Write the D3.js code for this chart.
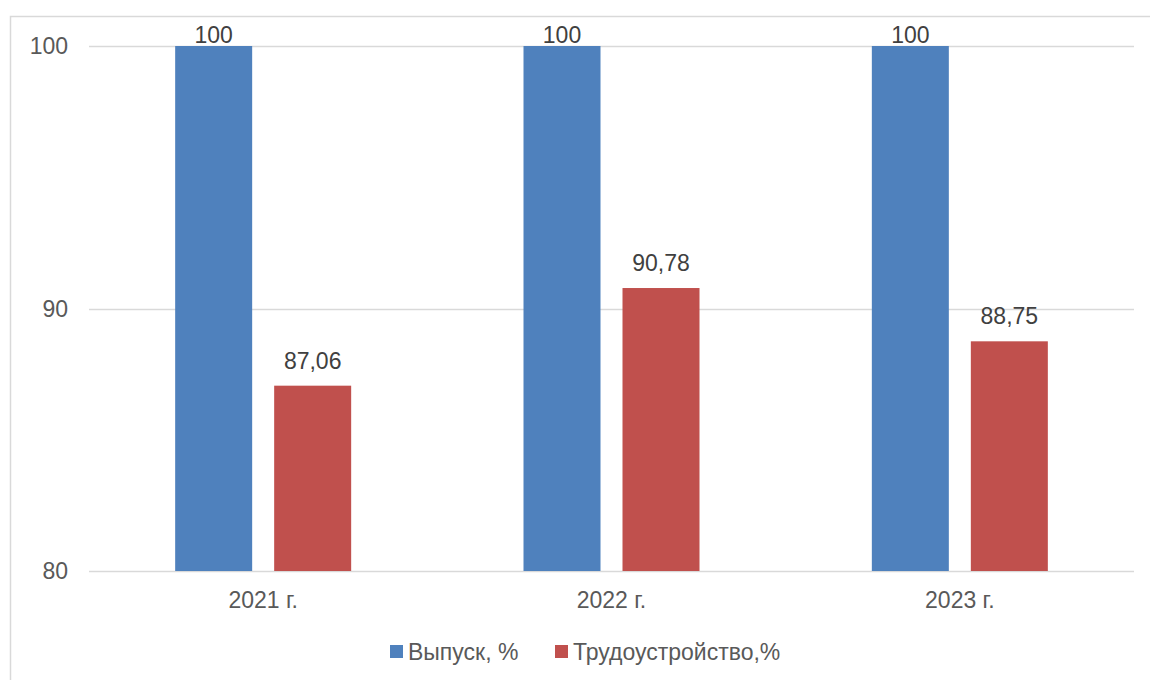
<!DOCTYPE html>
<html>
<head>
    <meta charset='utf-8'>
    <script src='https://cdn.jsdelivr.net/npm/d3@7'></script>
    <style>
        html, body { margin: 0; padding: 0; background: #fff; overflow: hidden; }
        text { font-family: 'Liberation Sans', Arial, sans-serif; }
    </style>
</head>
<body>
<script>
    // Data
    const categories = ['2021 г.', '2022 г.', '2023 г.'];
    const seriesNames = ['Выпуск, %', 'Трудоустройство,%'];
    const vypusk = [100, 100, 100];
    const trudo = [87.06, 90.78, 88.75];
    const yTicks = [80, 90, 100];
    const colors = ['#4F81BD', '#C0504D'];

    const W = 1150, H = 680;
    const plot = { left: 89, right: 1134, top: 46, bottom: 571 };
    const fmt = v => String(v).replace('.', ',');

    const svg = d3.select('body').append('svg')
        .attr('width', W).attr('height', H);

    // chart frame
    svg.append('rect')
        .attr('x', 10.5).attr('y', 16.5)
        .attr('width', W).attr('height', H)
        .attr('fill', 'none').attr('stroke', '#D9D9D9').attr('stroke-width', 1.5);

    const x = d3.scaleBand().domain(categories).range([plot.left, plot.right]);
    const y = d3.scaleLinear().domain([80, 100]).range([plot.bottom, plot.top]);

    // gridlines
    svg.append('g').selectAll('line')
        .data(yTicks).join('line')
        .attr('x1', plot.left).attr('x2', plot.right)
        .attr('y1', d => Math.round(y(d)) + 0.5).attr('y2', d => Math.round(y(d)) + 0.5)
        .attr('stroke', '#D9D9D9').attr('stroke-width', 1.5);

    // y tick labels
    svg.append('g').selectAll('text')
        .data(yTicks).join('text')
        .attr('x', 68).attr('y', d => y(d))
        .attr('text-anchor', 'end').attr('dy', '0.35em')
        .attr('font-size', 23).attr('fill', '#595959')
        .text(d => d);

    // bars: groups of two inside each category
    const inner = d3.scaleBand().domain([0, 1])
        .range([-88, 88]).paddingInner(22 / 176 * 2).paddingOuter(0);
    const series = [vypusk, trudo];
    const rows = [];
    categories.forEach((c, i) => series.forEach((s, j) => rows.push({ c, j, v: s[i] })));

    const cx = c => x(c) + x.bandwidth() / 2;
    const barW = 77;
    const barX = d => cx(d.c) + (d.j === 0 ? -88 : 11);

    svg.append('g').selectAll('rect')
        .data(rows).join('rect')
        .attr('x', barX)
        .attr('y', d => y(d.v))
        .attr('width', barW)
        .attr('height', d => y(80) - y(d.v))
        .attr('fill', d => colors[d.j]);

    // data labels
    svg.append('g').selectAll('text')
        .data(rows).join('text')
        .attr('x', d => barX(d) + barW / 2)
        .attr('y', d => Math.max(y(d.v) - 17, plot.top - 3))
        .attr('text-anchor', 'middle')
        .attr('font-size', 23).attr('fill', '#404040')
        .text(d => fmt(d.v));

    // x labels
    svg.append('g').selectAll('text')
        .data(categories).join('text')
        .attr('x', cx).attr('y', 608)
        .attr('text-anchor', 'middle')
        .attr('font-size', 23).attr('fill', '#595959')
        .text(d => d);

    // legend
    const legendX = [390, 555];
    const lg = svg.append('g').selectAll('g')
        .data(seriesNames).join('g')
        .attr('transform', (d, i) => `translate(${legendX[i]}, 645)`);
    lg.append('rect').attr('width', 13).attr('height', 13)
        .attr('fill', (d, i) => colors[i]);
    lg.append('text').attr('x', 18).attr('y', 15)
        .attr('font-size', 23).attr('fill', '#595959')
        .text(d => d);
</script>
</body>
</html>
